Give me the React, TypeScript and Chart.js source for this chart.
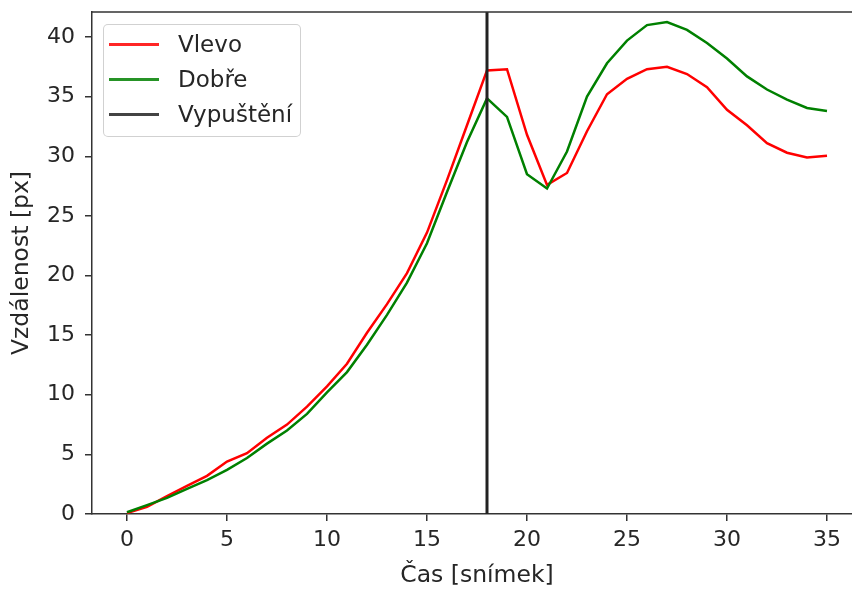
import React, { useEffect, useRef } from "react";
import { Chart, registerables } from "chart.js";

Chart.register(...registerables);

const frames: number[] = Array.from({ length: 36 }, (_, i) => i);

const leftValues: number[] = [
  0.08, 0.6, 1.5, 2.35, 3.2, 4.4, 5.1, 6.4, 7.5, 9.0,
  10.7, 12.6, 15.2, 17.6, 20.2, 23.6, 28.0, 32.6, 37.2, 37.3,
  31.8, 27.6, 28.6, 32.1, 35.2, 36.5, 37.3, 37.5, 36.9, 35.8,
  33.9, 32.6, 31.1, 30.3, 29.9, 30.05,
];

const goodValues: number[] = [
  0.15, 0.75, 1.35, 2.1, 2.85, 3.7, 4.7, 5.9, 7.0, 8.4,
  10.2, 11.9, 14.2, 16.7, 19.4, 22.7, 27.0, 31.2, 34.85, 33.3,
  28.5, 27.3, 30.4, 35.0, 37.8, 39.7, 41.0, 41.25, 40.6, 39.5,
  38.2, 36.7, 35.6, 34.75, 34.05, 33.8,
];

const releaseFrame = 18;

const xTicks: number[] = [0, 5, 10, 15, 20, 25, 30, 35];
const yTicks: number[] = [0, 5, 10, 15, 20, 25, 30, 35, 40];

const X_MIN = -1.75;
const X_MAX = 36.75;
const Y_MIN = 0;
const Y_MAX = 42.1;

const seriesLabels = ["Vlevo", "Dobře", "Vypuštění"];
const seriesColors = ["#ff0000", "#008000", "#222222"];

const FONT = "'DejaVu Sans', sans-serif";
const TEXT = "#262626";
const AXIS = "#333333";

const spinePlugin = {
  id: "spines",
  afterDraw(chart: any) {
    const { ctx, chartArea } = chart;
    ctx.save();
    ctx.strokeStyle = AXIS;
    ctx.lineWidth = 1.5;
    ctx.beginPath();
    ctx.moveTo(chartArea.left, chartArea.top);
    ctx.lineTo(chartArea.right, chartArea.top);
    ctx.lineTo(chartArea.right, chartArea.bottom);
    ctx.stroke();
    ctx.restore();
  },
};

export default function App() {
  const canvasRef = useRef<HTMLCanvasElement | null>(null);

  useEffect(() => {
    const canvas = canvasRef.current;
    if (!canvas) return;
    const chart = new Chart(canvas, {
      type: "line",
      data: {
        datasets: [
          {
            label: seriesLabels[0],
            data: frames.map((f, i) => ({ x: f, y: leftValues[i] })),
            borderColor: seriesColors[0],
            borderWidth: 2.5,
            pointRadius: 0,
            tension: 0,
            order: 2,
          },
          {
            label: seriesLabels[1],
            data: frames.map((f, i) => ({ x: f, y: goodValues[i] })),
            borderColor: seriesColors[1],
            borderWidth: 2.5,
            pointRadius: 0,
            tension: 0,
            order: 1,
          },
          {
            label: seriesLabels[2],
            data: [
              { x: releaseFrame, y: Y_MIN },
              { x: releaseFrame, y: Y_MAX },
            ],
            borderColor: seriesColors[2],
            borderWidth: 3,
            pointRadius: 0,
            tension: 0,
            order: 0,
          },
        ],
      },
      options: {
        animation: false,
        responsive: false,
        maintainAspectRatio: false,
        devicePixelRatio: 1,
        layout: { padding: { top: 12, right: 8, left: 0, bottom: 0 } },
        plugins: {
          legend: { display: false },
          tooltip: { enabled: false },
        },
        scales: {
          x: {
            type: "linear",
            min: X_MIN,
            max: X_MAX,
            afterBuildTicks: (scale: any) => {
              scale.ticks = xTicks.map((v) => ({ value: v }));
            },
            afterFit: (scale: any) => {
              scale.height = 77;
              scale.paddingLeft = 0;
              scale.paddingRight = 0;
            },
            ticks: {
              font: { family: FONT, size: 22 },
              color: TEXT,
              padding: 6,
              maxRotation: 0,
              autoSkip: false,
            },
            grid: {
              display: true,
              drawOnChartArea: false,
              drawTicks: true,
              tickLength: 7,
              color: AXIS,
              lineWidth: 1.5,
            },
            border: { display: true, color: AXIS, width: 1.5 },
            title: {
              display: true,
              text: "Čas [snímek]",
              font: { family: FONT, size: 23.5 },
              color: TEXT,
              padding: { top: 0, bottom: 1 },
            },
          },
          y: {
            type: "linear",
            min: Y_MIN,
            max: Y_MAX,
            afterBuildTicks: (scale: any) => {
              scale.ticks = yTicks.map((v) => ({ value: v }));
            },
            afterFit: (scale: any) => {
              scale.width = 92;
              scale.paddingTop = 0;
              scale.paddingBottom = 0;
            },
            ticks: {
              font: { family: FONT, size: 22 },
              color: TEXT,
              padding: 10,
              autoSkip: false,
            },
            grid: {
              display: true,
              drawOnChartArea: false,
              drawTicks: true,
              tickLength: 7,
              color: AXIS,
              lineWidth: 1.5,
            },
            border: { display: true, color: AXIS, width: 1.5 },
            title: {
              display: true,
              text: "Vzdálenost [px]",
              font: { family: FONT, size: 23.5 },
              color: TEXT,
              padding: { top: 8, bottom: 0 },
            },
          },
        },
      },
      plugins: [spinePlugin],
    });
    return () => chart.destroy();
  }, []);

  return (
    <div
      style={{
        position: "absolute",
        left: 0,
        top: 0,
        width: 852,
        height: 591,
        overflow: "hidden",
        background: "#fff",
      }}
    >
      <canvas
        ref={canvasRef}
        width={870}
        height={591}
        style={{ width: 870, height: 591, display: "block" }}
      />
      <div
        style={{
          position: "absolute",
          left: 103,
          top: 24,
          width: 198,
          height: 113,
          boxSizing: "border-box",
          border: "1.5px solid rgba(204,204,204,0.9)",
          borderRadius: 5,
          background: "rgba(255,255,255,0.8)",
          fontFamily: FONT,
          fontSize: 23,
          color: TEXT,
        }}
      >
        {seriesLabels.map((label, i) => (
          <div
            key={label}
            style={{
              position: "absolute",
              left: 0,
              top: 19 + i * 35 - 15,
              height: 30,
              display: "flex",
              alignItems: "center",
              whiteSpace: "nowrap",
            }}
          >
            <div
              style={{
                marginLeft: 5,
                width: 50,
                height: 3,
                background: seriesColors[i],
                opacity: 0.85,
              }}
            />
            <span style={{ marginLeft: 19, lineHeight: "30px" }}>{label}</span>
          </div>
        ))}
      </div>
    </div>
  );
}
